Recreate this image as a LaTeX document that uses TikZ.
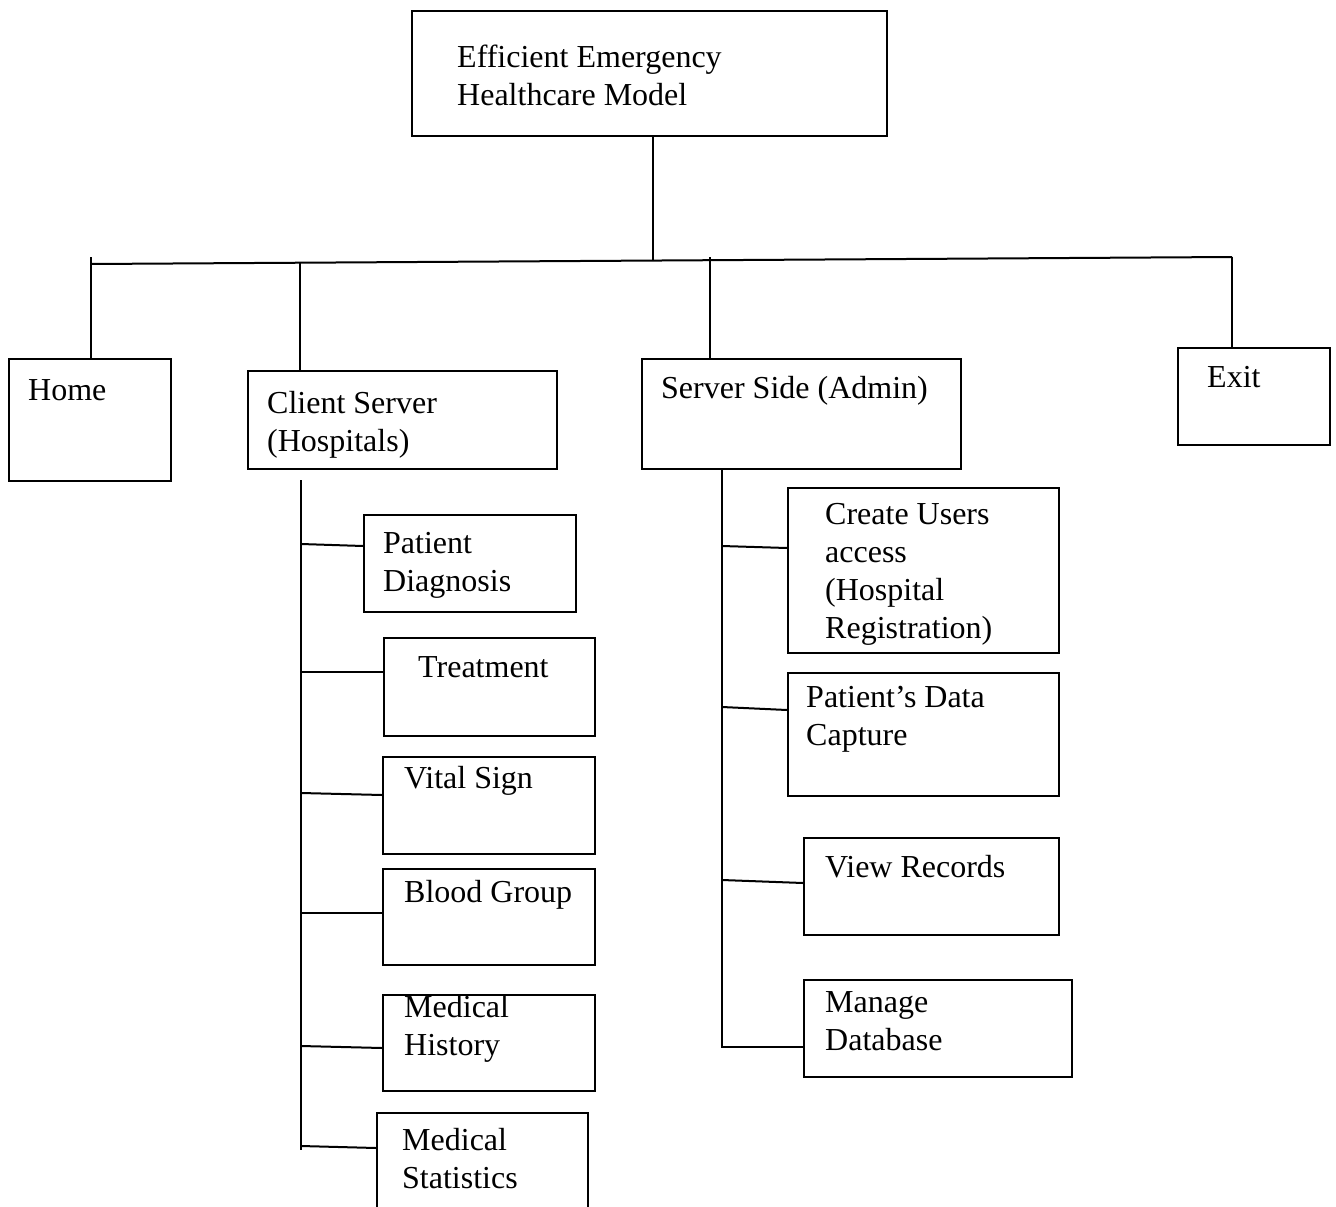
\documentclass[tikz,border=0pt]{standalone}
\usepackage{fontspec}
\setmainfont{Liberation Serif}
\usetikzlibrary{calc}

% two stacked lines whose baseline is the baseline of the first line
\newcommand{\twoline}[2]{\vtop{\hbox{#1}\hbox{#2}}}

\tikzset{
  box/.style={draw, line width=2pt, rectangle, anchor=north west, inner sep=0pt},
  label text/.style={anchor=base west, inner sep=0pt, font=\fontsize{32}{38}\selectfont},
  wire/.style={line width=2pt},
}

\begin{document}
\begin{tikzpicture}[x=1pt, y=-1pt]
\useasboundingbox (0,0) rectangle (1336,1207);

% ---- root ----
\node[box, minimum width=475pt, minimum height=125pt] (root) at (411,10) {};
\node[label text] (root-t) at (457,67) {\twoline{Efficient Emergency}{Healthcare Model}};

% ---- first level ----
\node[box, minimum width=162pt, minimum height=122pt] (home) at (8,358) {};
\node[label text] (home-t) at (28,400) {Home};

\node[box, minimum width=309pt, minimum height=98pt] (client) at (247,370) {};
\node[label text] (client-t) at (267,413) {\twoline{Client Server}{(Hospitals)}};

\node[box, minimum width=319pt, minimum height=110pt] (server) at (641,358) {};
\node[label text] (server-t) at (661,398) {Server Side (Admin)};

\node[box, minimum width=152pt, minimum height=97pt] (exit) at (1177,347) {};
\node[label text] (exit-t) at (1207,387) {Exit};

% ---- bus joining the first level ----
\coordinate (busL) at (91,264);
\coordinate (busR) at (1232,257);
\coordinate (busTop) at (653,260);
\coordinate (homeUp) at (91,257);
\coordinate (clientUp) at (300,263);
\coordinate (serverUp) at (710,257);

\draw[wire] (busL) -- (busR);
\draw[wire] ($(root.south west)+(242,0)$) -- (busTop);
\draw[wire] (homeUp) -- ($(home.north west)+(83,0)$);
\draw[wire] (clientUp) -- ($(client.north west)+(53,0)$);
\draw[wire] (serverUp) -- ($(server.north west)+(69,0)$);
\draw[wire] (busR) -- ($(exit.north west)+(55,0)$);

% ---- client side branch ----
\node[box, minimum width=212pt, minimum height=97pt] (diag) at (363,514) {};
\node[label text] (diag-t) at (383,553) {\twoline{Patient}{Diagnosis}};

\node[box, minimum width=211pt, minimum height=98pt] (treat) at (383,637) {};
\node[label text] (treat-t) at (418,677) {Treatment};

\node[box, minimum width=212pt, minimum height=97pt] (vital) at (382,756) {};
\node[label text] (vital-t) at (404,788) {Vital Sign};

\node[box, minimum width=212pt, minimum height=96pt] (blood) at (382,868) {};
\node[label text] (blood-t) at (404,902) {Blood Group};

\node[box, minimum width=212pt, minimum height=96pt] (hist) at (382,994) {};
\node[label text] (hist-t) at (404,1017) {\twoline{Medical}{History}};

\node[box, minimum width=211pt, minimum height=110pt] (stats) at (376,1112) {};
\node[label text] (stats-t) at (402,1150) {\twoline{Medical}{Statistics}};

\coordinate (cTop) at (301,480);
\coordinate (cBot) at (301,1150);
\draw[wire] (cTop) -- (cBot);

\coordinate (c1) at (301,544);
\coordinate (c2) at (301,672);
\coordinate (c3) at (301,793);
\coordinate (c4) at (301,913);
\coordinate (c5) at (301,1046);
\coordinate (c6) at (301,1146);
\draw[wire] (c1) -- ($(diag.north west)+(0,32)$);
\draw[wire] (c2) -- ($(treat.north west)+(0,35)$);
\draw[wire] (c3) -- ($(vital.north west)+(0,39)$);
\draw[wire] (c4) -- ($(blood.north west)+(0,45)$);
\draw[wire] (c5) -- ($(hist.north west)+(0,54)$);
\draw[wire] (c6) -- ($(stats.north west)+(0,36)$);

% ---- server side branch ----
\node[box, minimum width=271pt, minimum height=165pt] (users) at (787,487) {};
\node[label text] (users-t) at (825,524)
  {\vtop{\hbox{Create Users}\hbox{access}\hbox{(Hospital}\hbox{Registration)}}};

\node[box, minimum width=271pt, minimum height=123pt] (capture) at (787,672) {};
\node[label text] (capture-t) at (806,707) {\twoline{Patient’s Data}{Capture}};

\node[box, minimum width=255pt, minimum height=97pt] (records) at (803,837) {};
\node[label text] (records-t) at (825,877) {View Records};

\node[box, minimum width=268pt, minimum height=97pt] (dbase) at (803,979) {};
\node[label text] (dbase-t) at (825,1012) {\twoline{Manage}{Database}};

\coordinate (sTop) at (722,468);
\coordinate (sBot) at (722,1048);
\draw[wire] (sTop) -- (sBot);

\coordinate (s1) at (722,546);
\coordinate (s2) at (722,707);
\coordinate (s3) at (722,880);
\coordinate (s4) at (722,1047);
\draw[wire] (s1) -- ($(users.north west)+(0,61)$);
\draw[wire] (s2) -- ($(capture.north west)+(0,38)$);
\draw[wire] (s3) -- ($(records.north west)+(0,46)$);
\draw[wire] (s4) -- ($(dbase.north west)+(0,68)$);

\end{tikzpicture}
\end{document}
